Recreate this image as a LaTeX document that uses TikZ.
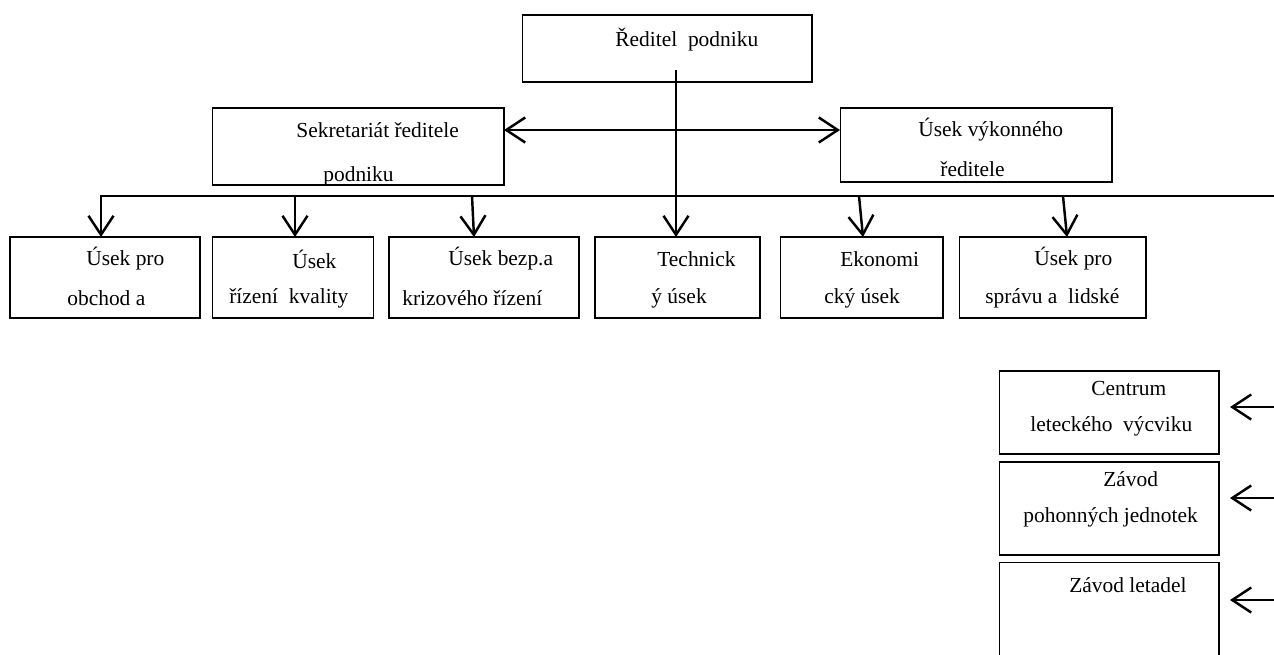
\documentclass[tikz,border=0pt]{standalone}
\usepackage{fontspec}
\setmainfont{Liberation Serif}
\usetikzlibrary{arrows.meta}

\tikzset{
    box/.style={draw, line width=0.6pt, inner sep=0pt, outer sep=0pt},
    txt/.style={anchor=west, inner sep=0pt, font=\fontsize{12.2}{14}\selectfont},
    arr/.style={-{Straight Barb[length=0.38cm,width=0.5cm]}, line width=1.4pt},
    darr/.style={{Straight Barb[length=0.38cm,width=0.5cm]}-{Straight Barb[length=0.38cm,width=0.5cm]}, line width=1.4pt}
}

\begin{document}
\begin{tikzpicture}[x={(0.02cm,0)}, y={(0,-0.02cm)}]
    \useasboundingbox (0,0) rectangle (1274,654);
    \clip (0,0) rectangle (1274,654);

    % top level
    \node[box, minimum width=5.8cm, minimum height=1.34cm] (reditel) at (667,48.5) {};
    \node[txt] (treditel) at (615,40) {Ředitel\ \ podniku};

    \node[box, minimum width=5.84cm, minimum height=1.54cm] (sekretariat) at (358,146.5) {};
    \node[box, minimum width=5.44cm, minimum height=1.48cm] (vykonny) at (976,145) {};
    \begin{scope}
        \clip (sekretariat.south west) rectangle (sekretariat.north east);
        \node[txt] (tsekr1) at (296,130) {Sekretariát ředitele};
        \node[txt] (tsekr2) at (323,176) {podniku};
    \end{scope}
    \node[txt] (tvyk1) at (918,130) {Úsek výkonného};
    \node[txt] (tvyk2) at (940,169) {ředitele};

    % departments
    \node[box, minimum width=3.8cm, minimum height=1.62cm] (obchod) at (105,277.5) {};
    \node[box, minimum width=3.22cm, minimum height=1.62cm] (kvalita) at (293,277.5) {};
    \node[box, minimum width=3.8cm, minimum height=1.62cm] (bezp) at (484,277.5) {};
    \node[box, minimum width=3.3cm, minimum height=1.62cm] (tech) at (677.5,277.5) {};
    \node[box, minimum width=3.26cm, minimum height=1.62cm] (ekon) at (861.5,277.5) {};
    \node[box, minimum width=3.74cm, minimum height=1.62cm] (sprava) at (1052.5,277.5) {};

    \node[txt] (tobchod1) at (86,259) {Úsek pro};
    \node[txt] (tobchod2) at (67,298) {obchod a};
    \node[txt] (tkval1) at (292,259) {Úsek};
    \node[txt] (tkval2) at (229,298) {řízení\ \ kvality};
    \node[txt] (tbezp1) at (448,259) {Úsek bezp.a};
    \node[txt] (tbezp2) at (402,298) {krizového řízení};
    \node[txt] (ttech1) at (657,259) {Technick};
    \node[txt] (ttech2) at (651,298) {ý úsek};
    \node[txt] (tekon1) at (840,259) {Ekonomi};
    \node[txt] (tekon2) at (824,298) {cký úsek};
    \node[txt] (tspr1) at (1034,259) {Úsek pro};
    \node[txt] (tspr2) at (985,298) {správu a\ \ lidské};

    % plants
    \node[box, minimum width=4.4cm, minimum height=1.66cm] (centrum) at (1109,412.5) {};
    \node[box, minimum width=4.4cm, minimum height=1.86cm] (zpj) at (1109,508.5) {};
    \node[box, minimum width=4.4cm, minimum height=2.16cm] (zl) at (1109,616) {};
    \node[txt] (tcent1) at (1091,388) {Centrum};
    \node[txt] (tcent2) at (1030,426) {leteckého\ \ výcviku};
    \node[txt] (tzpj1) at (1103,479) {Závod};
    \node[txt] (tzpj2) at (1023,517) {pohonných jednotek};
    \node[txt] (tzl) at (1069,585) {Závod letadel};

    % connectors
    \coordinate (r0) at (676,70);
    \coordinate (h) at (676,130);
    \coordinate (busL) at (100,196);
    \coordinate (busR) at (1274,196);
    \draw[line width=1.4pt] (busL) -- (busR);
    \draw[darr] (h -| sekretariat.east) -- (h -| vykonny.west);
    \draw[arr] (r0) -- (r0 |- tech.north);

    \coordinate (b1) at (101,196);
    \coordinate (b2) at (295,196);
    \coordinate (b3) at (472,196);
    \coordinate (b5) at (859,196);
    \coordinate (b6) at (1063,196);
    \draw[arr] (b1) -- (b1 |- obchod.north);
    \draw[arr] (b2) -- (b2 |- kvalita.north);
    \draw[arr] (b3) -- ([xshift=0.04cm]b3 |- bezp.north);
    \draw[arr] (b5) -- ([xshift=0.08cm]b5 |- ekon.north);
    \draw[arr] (b6) -- ([xshift=0.08cm]b6 |- sprava.north);

    \coordinate (c1) at (1274,407);
    \coordinate (c2) at (1274,498);
    \coordinate (c3) at (1274,600);
    \draw[arr] (c1) -- ([xshift=0.22cm]c1 -| centrum.east);
    \draw[arr] (c2) -- ([xshift=0.22cm]c2 -| zpj.east);
    \draw[arr] (c3) -- ([xshift=0.22cm]c3 -| zl.east);
\end{tikzpicture}
\end{document}
